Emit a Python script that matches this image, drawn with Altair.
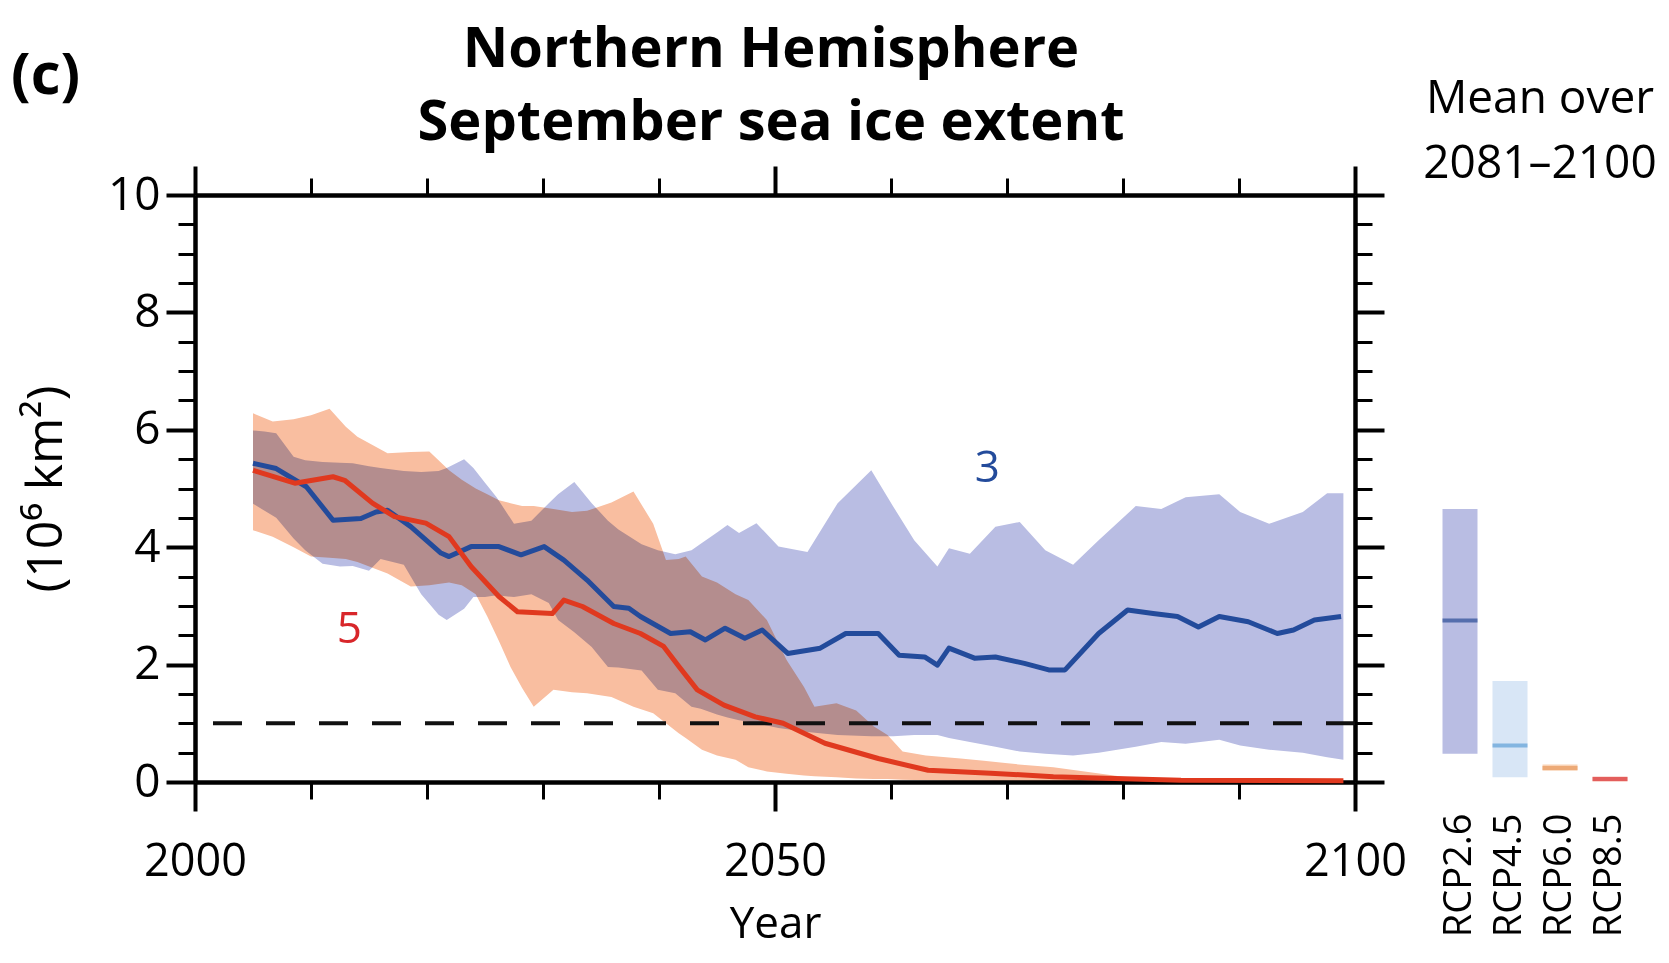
import altair as alt
import pandas as pd

FONT = "Open Sans"

# ---------------- data ----------------
# RCP2.6 multi-model mean (blue line)
rcp26_years = [2005.0, 2007.0, 2009.6, 2011.9, 2014.3, 2015.6, 2016.6, 2018.6, 2021.2, 2021.9,
               2023.8, 2026.2, 2028.1, 2030.1, 2031.8, 2033.8, 2036.1, 2037.4, 2038.4, 2041.0,
               2042.7, 2044.0, 2045.7, 2047.4, 2048.9, 2051.1, 2053.9, 2056.1, 2058.9, 2060.7,
               2062.9, 2064.0, 2065.0, 2067.2, 2069.0, 2071.5, 2073.6, 2075.0, 2077.9, 2080.4,
               2082.6, 2084.7, 2086.5, 2088.3, 2090.8, 2093.3, 2094.7, 2096.5, 2098.8]
rcp26_mean = [5.43, 5.34, 5.03, 4.46, 4.49, 4.60, 4.63, 4.35, 3.90, 3.84,
              4.01, 4.01, 3.87, 4.01, 3.78, 3.44, 2.99, 2.96, 2.82, 2.53,
              2.56, 2.42, 2.62, 2.45, 2.59, 2.19, 2.28, 2.53, 2.53, 2.16,
              2.13, 1.99, 2.28, 2.11, 2.13, 2.02, 1.91, 1.91, 2.53, 2.93,
              2.87, 2.82, 2.64, 2.82, 2.73, 2.53, 2.59, 2.76, 2.82]

# RCP8.5 multi-model mean (red line)
rcp85_years = [2005.0, 2008.6, 2011.9, 2012.9, 2015.3, 2017.2, 2019.9, 2021.9, 2023.8, 2026.2,
               2027.8, 2030.8, 2031.8, 2033.4, 2036.1, 2038.4, 2040.4, 2041.7, 2043.3, 2045.6,
               2048.3, 2050.7, 2054.3, 2058.9, 2063.2, 2068.6, 2074.0, 2079.3, 2085.0, 2099.0]
rcp85_mean = [5.31, 5.09, 5.20, 5.14, 4.75, 4.52, 4.41, 4.18, 3.67, 3.16,
              2.90, 2.87, 3.10, 2.99, 2.70, 2.53, 2.31, 1.97, 1.57, 1.31,
              1.11, 1.00, 0.66, 0.40, 0.20, 0.15, 0.09, 0.06, 0.03, 0.02]

# RCP2.6 model range (blue shading)
band26_years = [2005, 2006, 2007, 2008.5, 2009.5, 2011, 2012.5, 2013.6, 2015, 2016,
                2018, 2019.5, 2021, 2021.7, 2023.2, 2024, 2025, 2026, 2027.5, 2029,
                2030.5, 2031.3, 2032.7, 2034.2, 2035.6, 2036.5, 2038.5, 2039.9, 2041.4, 2042.8,
                2043.6, 2045, 2045.9, 2046.9, 2048.4, 2050.3, 2052.8, 2055.4, 2058.3, 2060.2,
                2062, 2064, 2065, 2066.8, 2069, 2071.1, 2073.3, 2075.7, 2077.9, 2081.1,
                2083.3, 2085.4, 2088.3, 2090.1, 2092.6, 2095.5, 2097.6, 2099]
band26_hi = [5.99, 5.97, 5.94, 5.54, 5.48, 5.45, 5.44, 5.43, 5.38, 5.35,
             5.30, 5.28, 5.30, 5.35, 5.50, 5.35, 5.10, 4.85, 4.40, 4.45,
             4.75, 4.90, 5.11, 4.75, 4.45, 4.30, 4.05, 3.95, 3.88, 3.95,
             4.06, 4.25, 4.38, 4.24, 4.41, 4.01, 3.92, 4.75, 5.31, 4.69,
             4.12, 3.67, 3.98, 3.89, 4.35, 4.43, 3.95, 3.70, 4.12, 4.70,
             4.65, 4.85, 4.90, 4.60, 4.40, 4.60, 4.92, 4.92]
band26_lo = [4.74, 4.62, 4.50, 4.15, 3.95, 3.72, 3.67, 3.68, 3.60, 3.80,
             3.70, 3.20, 2.85, 2.76, 2.95, 3.15, 3.15, 3.18, 3.15, 3.20,
             3.05, 2.76, 2.55, 2.30, 1.96, 1.95, 1.90, 1.57, 1.51, 1.28,
             1.25, 1.15, 1.10, 1.05, 1.00, 0.92, 0.85, 0.80, 0.78, 0.78,
             0.80, 0.80, 0.75, 0.68, 0.60, 0.52, 0.48, 0.45, 0.50, 0.60,
             0.68, 0.65, 0.72, 0.62, 0.55, 0.50, 0.42, 0.38]

# RCP8.5 model range (orange shading)
band85_years = [2005, 2006.7, 2008.5, 2010, 2011.6, 2013, 2014, 2016.6, 2018.6, 2020.2,
                2021.9, 2023, 2024.2, 2025.2, 2026.2, 2027.2, 2028.2, 2029.2, 2030.9, 2032.5,
                2033.8, 2035.9, 2037.8, 2039.5, 2040.6, 2041.7, 2042.3, 2043.7, 2045, 2046.6,
                2047.7, 2049.3, 2051, 2052.5, 2053.4, 2055.3, 2057, 2058.5, 2059.7, 2061,
                2063, 2066, 2068, 2071, 2074, 2077, 2080, 2083, 2090, 2099]
band85_hi = [6.28, 6.14, 6.18, 6.25, 6.36, 6.05, 5.88, 5.60, 5.62, 5.63,
             5.31, 5.15, 5.00, 4.90, 4.80, 4.75, 4.70, 4.70, 4.65, 4.60,
             4.62, 4.76, 4.95, 4.40, 3.78, 3.80, 3.84, 3.50, 3.40, 3.20,
             3.10, 2.76, 2.08, 1.62, 1.28, 1.34, 1.22, 0.95, 0.80, 0.52,
             0.45, 0.40, 0.36, 0.30, 0.25, 0.17, 0.09, 0.05, 0.04, 0.03]
band85_lo = [4.29, 4.18, 4.00, 3.84, 3.82, 3.80, 3.75, 3.55, 3.33, 3.35,
             3.40, 3.35, 3.20, 2.82, 2.40, 1.96, 1.60, 1.28, 1.57, 1.53,
             1.51, 1.45, 1.28, 1.17, 1.00, 0.83, 0.75, 0.55, 0.45, 0.38,
             0.25, 0.18, 0.14, 0.11, 0.10, 0.08, 0.06, 0.05, 0.05, 0.04,
             0.03, 0.02, 0.02, 0.01, 0.01, 0.0, 0.0, 0.0, 0.0, 0.0]

threshold = [1.0]

# model counts shown in the panel
count_text = ["3", "5"]
count_year = [2068.3, 2013.3]
count_value = [5.34, 2.59]

# mean over 2081-2100
scen = ["RCP2.6", "RCP4.5", "RCP6.0", "RCP8.5"]
scen_mean = [2.75, 0.62, 0.24, 0.05]
scen_lo = [0.48, 0.08, 0.19, 0.00]
scen_hi = [4.65, 1.72, 0.30, 0.10]

x_major = [2000, 2050, 2100]
x_minor = [2010, 2020, 2030, 2040, 2060, 2070, 2080, 2090]
y_major = [0, 2, 4, 6, 8, 10]
y_minor = [0.5, 1, 1.5, 2.5, 3, 3.5, 4.5, 5, 5.5, 6.5, 7, 7.5, 8.5, 9, 9.5]

# ---------------- styling ----------------
LAV = "#b9bde3"
PEACH = "#f9bea0"
BLUE = "#234b9b"
RED = "#e0391f"
bar_colors = ["#b9bde3", "#d8e6f6", "#f9d3b6", "#fbd6d0"]
mean_colors = ["#2b4d96", "#5fa0d7", "#e8985c", "#d92b2b"]

W, H = 1160, 587

def xs():
    return alt.Scale(domain=[2000, 2100], nice=False, zero=False)

def ys():
    return alt.Scale(domain=[0, 10], nice=False, zero=False)

common = dict(grid=False, domainColor="black", tickColor="black", labelColor="black",
              labelFont=FONT, titleFont=FONT, titleColor="black", labelFlush=False,
              labelOverlap=False)

def major_axis(orient, values, labels, **kw):
    return alt.Axis(orient=orient, values=values, tickSize=29, tickWidth=4, domain=True,
                    domainWidth=4.5, labels=labels, **common, **kw)

def minor_axis(orient, values):
    return alt.Axis(orient=orient, values=values, tickSize=17, tickWidth=3, domain=False,
                    labels=False, title=None, **common)

x_bottom = major_axis("bottom", x_major, True, format="d", labelFontSize=45, labelPadding=28,
                      labelBaseline="top", title="Year", titleFontSize=44,
                      titleFontWeight="normal", titleX=580, titleY=155, titleAlign="center",
                      titleBaseline="alphabetic")
y_left = major_axis("left", y_major, True, format="d", labelFontSize=46, labelPadding=6,
                    title="(10\u2076 km\u00b2)", titleFontSize=50, titleFontWeight="normal",
                    titleAngle=270, titleX=-149, titleY=293.5, titleAlign="center",
                    titleBaseline="middle")
x_top = major_axis("top", x_major, False, title=None)
y_right = major_axis("right", y_major, False, title=None)

df26 = pd.DataFrame({"year": band26_years, "lo": band26_lo, "hi": band26_hi})
df85 = pd.DataFrame({"year": band85_years, "lo": band85_lo, "hi": band85_hi})
dl26 = pd.DataFrame({"year": rcp26_years, "v": rcp26_mean})
dl85 = pd.DataFrame({"year": rcp85_years, "v": rcp85_mean})
dthr = pd.DataFrame({"v": threshold})
dcnt = pd.DataFrame({"t": count_text, "year": count_year, "v": count_value,
                     "c": [BLUE, "#d8262a"]})
dscen = pd.DataFrame({"rcp": scen, "m": scen_mean, "lo": scen_lo, "hi": scen_hi})

band26 = alt.Chart(df26).mark_area(color=LAV, opacity=1).encode(
    x=alt.X("year:Q", scale=xs(), axis=x_bottom),
    y=alt.Y("lo:Q", scale=ys(), axis=y_left),
    y2="hi:Q",
)
band85 = alt.Chart(df85).mark_area(color=PEACH, opacity=1, blend="multiply").encode(
    x=alt.X("year:Q", scale=xs(), axis=x_top),
    y=alt.Y("lo:Q", scale=ys(), axis=y_right),
    y2="hi:Q",
)
thr = alt.Chart(dthr).mark_rule(color="#111111", strokeWidth=4, strokeDash=[29, 24]).encode(
    y=alt.Y("v:Q", scale=ys(), axis=None),
)
line26 = alt.Chart(dl26).mark_line(color=BLUE, strokeWidth=5, strokeJoin="round").encode(
    x=alt.X("year:Q", scale=xs(), axis=minor_axis("bottom", x_minor)),
    y=alt.Y("v:Q", scale=ys(), axis=minor_axis("left", y_minor)),
)
line85 = alt.Chart(dl85).mark_line(color=RED, strokeWidth=5, strokeJoin="round").encode(
    x=alt.X("year:Q", scale=xs(), axis=minor_axis("top", x_minor)),
    y=alt.Y("v:Q", scale=ys(), axis=minor_axis("right", y_minor)),
)
counts = alt.Chart(dcnt).mark_text(font=FONT, fontSize=44, fontWeight=500, align="center",
                                   baseline="middle").encode(
    x=alt.X("year:Q", scale=xs(), axis=None),
    y=alt.Y("v:Q", scale=ys(), axis=None),
    text="t:N",
    color=alt.Color("c:N", scale=None, legend=None),
)

side_x_scale = alt.Scale(domain=scen, range=[1240, 1440], paddingInner=0.3, paddingOuter=0.15)
side_axis = alt.Axis(orient="bottom", domain=False, ticks=False, labelAngle=270,
                     labelFontSize=38, labelPadding=31, labelFont=FONT, labelColor="black",
                     title=None, grid=False)
side_bars = alt.Chart(dscen).mark_bar().encode(
    x=alt.X("rcp:N", scale=side_x_scale, axis=side_axis),
    y=alt.Y("lo:Q", scale=ys(), axis=None),
    y2="hi:Q",
    color=alt.Color("rcp:N", scale=alt.Scale(domain=scen, range=bar_colors), legend=None),
)
side_means = alt.Chart(dscen).mark_tick(thickness=4, size=35).encode(
    x=alt.X("rcp:N", scale=side_x_scale, axis=None),
    y=alt.Y("m:Q", scale=ys(), axis=None),
    color=alt.Color("rcp:N", scale=alt.Scale(domain=scen, range=mean_colors), legend=None),
)

def label(text, x, y, size, weight="normal", align="center"):
    return alt.Chart(pd.DataFrame({"t": [text]})).mark_text(
        font=FONT, fontSize=size, fontWeight=weight, align=align, baseline="alphabetic",
        color="black").encode(x=alt.value(x), y=alt.value(y), text="t:N")

t_panel = label("(c)", -184, -101, 58, "bold", "left")
t_title1 = label("Northern Hemisphere", 576, -128, 56, "bold")
t_title2 = label("September sea ice extent", 576, -55, 56, "bold")
t_mean1 = label("Mean over", 1345, -82, 46)
t_mean2 = label("2081\u20132100", 1345, -17, 46)

chart = alt.layer(
    band26, band85, thr, line26, line85, counts, side_bars, side_means,
    t_panel, t_title1, t_title2, t_mean1, t_mean2,
).resolve_scale(
    x="independent", y="independent", color="independent"
).resolve_axis(
    x="independent", y="independent"
).properties(
    width=W, height=H,
    autosize=alt.AutoSizeParams(type="none"),
    padding={"left": 187, "top": 187, "right": 305, "bottom": 168},
).configure_view(stroke=None).configure(background="white")

chart.save("out.html", embed_options={"renderer": "svg", "actions": False})
